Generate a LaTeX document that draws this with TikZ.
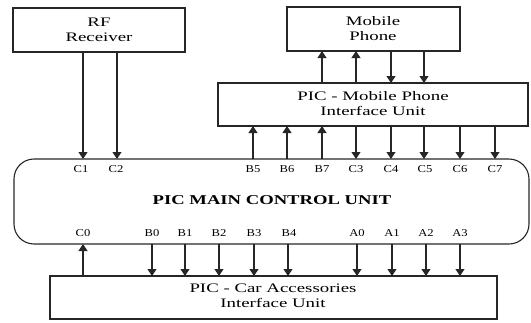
\documentclass[tikz,border=0pt]{standalone}
\usepackage{fontspec}
\setmainfont{Liberation Serif}
\usetikzlibrary{arrows.meta}
\newcommand\wdtxt[1]{\scalebox{1.45}[1]{#1}}
\newcommand\wdlbl[1]{\scalebox{1.2}[1]{#1}}
\begin{document}
\begin{tikzpicture}[x=1pt,y=-1pt,
  box/.style={draw=black!85,line width=1.1pt},
  sig/.style={draw=black!85,line width=1.1pt,-{Triangle[width=9pt,length=7pt]}},
  lbl/.style={font=\fontsize{10.5}{12}\selectfont,inner sep=0pt},
  txt/.style={font=\fontsize{13}{15}\selectfont,align=center,inner sep=0pt}]
\useasboundingbox (0,0) rectangle (531,322);
% boxes
\draw[box] (13,8) rectangle (185,52);
\node[txt] (rf) at (99,30) {\wdtxt{RF}\\\wdtxt{Receiver}};
\draw[box] (287,7) rectangle (460,51);
\node[txt] (mp) at (373,29) {\wdtxt{Mobile}\\\wdtxt{Phone}};
\draw[box] (218,83) rectangle (528,126);
\node[txt] (mpi) at (373,104) {\wdtxt{PIC - Mobile Phone}\\\wdtxt{Interface Unit}};
\draw[box,rounded corners=20pt] (14,159) rectangle (529,244);
\node[font=\fontsize{13.5}{15}\selectfont\bfseries,inner sep=0pt] (main) at (272,200) {\scalebox{1.38}[1]{PIC MAIN CONTROL UNIT}};
\draw[box] (50,276) rectangle (497,319);
\node[txt] (car) at (273,296) {\wdtxt{PIC - Car Accessories}\\\wdtxt{Interface Unit}};
% coordinates
\foreach \n/\x in {c1/83,c2/117}{
  \coordinate (\n t) at (\x,52);
  \coordinate (\n b) at (\x,159);}
\foreach \n/\x in {b5/253,b6/287,b7/322,c3/356,c4/391,c5/424,c6/460,c7/495}{
  \coordinate (\n t) at (\x,126);
  \coordinate (\n b) at (\x,159);}
\foreach \n/\x in {m1/322,m2/356,m3/391,m4/424}{
  \coordinate (\n t) at (\x,51);
  \coordinate (\n b) at (\x,83);}
\foreach \n/\x in {c0/83,b0/152,b1/185,b2/219,b3/254,b4/288,a0/357,a1/392,a2/426,a3/460}{
  \coordinate (\n t) at (\x,244);
  \coordinate (\n b) at (\x,276);}
% connectors
\draw[sig] (c1t) -- (c1b);
\draw[sig] (c2t) -- (c2b);
\foreach \n in {b5,b6,b7}{\draw[sig] (\n b) -- (\n t);}
\foreach \n in {c3,c4,c5,c6,c7}{\draw[sig] (\n t) -- (\n b);}
\draw[sig] (m1b) -- (m1t);
\draw[sig] (m2b) -- (m2t);
\draw[sig] (m3t) -- (m3b);
\draw[sig] (m4t) -- (m4b);
\draw[sig] (c0b) -- (c0t);
\foreach \n in {b0,b1,b2,b3,b4,a0,a1,a2,a3}{\draw[sig] (\n t) -- (\n b);}
% pin labels
\foreach \n/\x/\t in {l1/81/C1,l2/116/C2,l3/253/B5,l4/287/B6,l5/322/B7,l6/356/C3,l7/391/C4,l8/425/C5,l9/460/C6,l10/495/C7}{
  \node[lbl] (\n) at (\x,169) {\wdlbl{\t}};}
\foreach \n/\x/\t in {k1/83/C0,k2/152/B0,k3/185/B1,k4/219/B2,k5/254/B3,k6/289/B4,k7/357/A0,k8/392/A1,k9/426/A2,k10/460/A3}{
  \node[lbl] (\n) at (\x,233) {\wdlbl{\t}};}
\end{tikzpicture}
\end{document}
